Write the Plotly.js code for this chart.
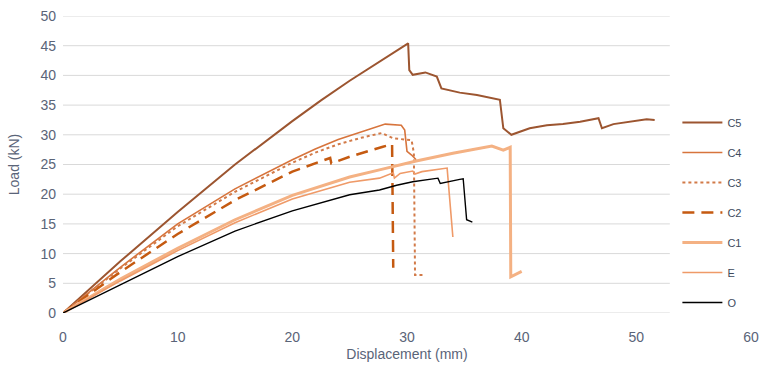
<!DOCTYPE html>
<html>
<head>
<meta charset="utf-8">
<script src="https://cdn.plot.ly/plotly-3.0.1.min.js"></script>
<style>html,body{margin:0;padding:0;background:#fff;}#chart{width:763px;height:367px;}</style>
</head>
<body>
<div id="chart"></div>
<script>
// Series data (displacement in mm, load in kN)
const c5X = [0, 2, 5, 10, 15, 20, 22.5, 25, 27.5, 29.4, 30.1, 30.2, 30.5, 31.6, 32.6, 33.0, 34.6, 36.1, 37.5, 38.1, 38.4, 39.1, 40.7, 42.2, 43.6, 45.1, 46.7, 47.0, 48.0, 49.4, 50.9, 51.6];
const c5Y = [0, 3.5, 8.7, 17.0, 25.0, 32.3, 35.8, 39.1, 42.2, 44.6, 45.4, 40.9, 40.1, 40.5, 39.8, 37.8, 37.1, 36.7, 36.1, 35.9, 31.1, 30.0, 31.1, 31.6, 31.8, 32.2, 32.8, 31.1, 31.8, 32.2, 32.6, 32.5];

const c4X = [0, 2, 5, 10, 15, 20, 22, 24, 26, 28.1, 29.5, 29.8, 30.0, 30.4, 30.8];
const c4Y = [0, 3.1, 7.7, 15.0, 20.9, 25.8, 27.6, 29.2, 30.5, 31.8, 31.6, 30.8, 27.2, 26.6, 25.8];

const c3X = [0, 2, 5, 10, 15, 20, 22, 24, 26, 27.8, 28.8, 30.4, 30.6, 30.7, 31.4];
const c3Y = [0, 3.0, 7.5, 14.6, 20.4, 25.3, 27.0, 28.4, 29.5, 30.3, 29.4, 29.1, 26.9, 6.4, 6.4];

const c2X = [0, 2, 5, 10, 15, 20, 23.3, 23.4, 25.0, 27.9, 28.7, 28.8];
const c2Y = [0, 2.8, 6.9, 13.3, 19.0, 23.8, 26.1, 25.2, 26.3, 28.0, 28.4, 7.6];

const c1X = [0, 2, 5, 10, 15, 20, 25, 27.6, 30.8, 34.0, 36.4, 37.4, 38.4, 39.0, 39.05, 40.0];
const c1Y = [0, 2.3, 5.7, 10.9, 15.7, 19.8, 22.9, 24.1, 25.6, 26.9, 27.7, 28.1, 27.4, 27.9, 6.1, 7.0];

const eX = [0, 2, 5, 10, 15, 20, 25, 27.6, 28.8, 28.9, 29.4, 30.5, 30.7, 31.3, 32.7, 33.5, 34.0];
const eY = [0, 2.2, 5.4, 10.5, 15.2, 19.2, 22.0, 22.7, 23.6, 22.7, 23.5, 23.9, 23.4, 23.8, 24.2, 24.4, 12.8];

const oX = [0, 2, 5, 10, 15, 20, 25, 27.6, 29.1, 30.5, 32.7, 32.9, 34.6, 34.9, 35.2, 35.7];
const oY = [0, 1.9, 4.8, 9.5, 13.8, 17.2, 19.9, 20.7, 21.5, 22.1, 22.7, 21.8, 22.5, 22.6, 15.7, 15.3];

const seriesNames = ["C5", "C4", "C3", "C2", "C1", "E", "O"];
const xTicks = [0, 10, 20, 30, 40, 50, 60];
const yTicks = [0, 5, 10, 15, 20, 25, 30, 35, 40, 45, 50];

const xs = [c5X, c4X, c3X, c2X, c1X, eX, oX];
const ys = [c5Y, c4Y, c3Y, c2Y, c1Y, eY, oY];
const styles = [
  {color: "#9c5530", width: 2, dash: "solid"},
  {color: "#d7743c", width: 1.6, dash: "solid"},
  {color: "#d27a48", width: 2, dash: "dot"},
  {color: "#c55a11", width: 2.5, dash: "12px,7px"},
  {color: "#f4b183", width: 3, dash: "solid"},
  {color: "#ef9a68", width: 1.6, dash: "solid"},
  {color: "#000000", width: 1.4, dash: "solid"}
];

const traces = seriesNames.map((n, i) => ({
  x: xs[i], y: ys[i], name: n, type: "scatter", mode: "lines",
  line: styles[i], legendgroup: n
}));

const txt = "#5a6478";
const gridShapes = yTicks.map(v => ({
  type: "line", xref: "paper", yref: "y", x0: 0, x1: 0.882, y0: v, y1: v,
  line: {color: "#d9d9d9", width: 1}, layer: "below"
}));

const layout = {
  width: 763, height: 367,
  margin: {l: 63, r: 12, t: 16, b: 54},
  paper_bgcolor: "#fff", plot_bgcolor: "#fff",
  font: {family: "Liberation Sans, Arial, sans-serif", color: txt, size: 14},
  showlegend: true,
  legend: {x: 0.893, xanchor: "left", y: 0.69, yanchor: "top",
    font: {size: 11, color: "#404a5c"}, tracegroupgap: 11, itemwidth: 40,
    bgcolor: "rgba(0,0,0,0)"},
  xaxis: {range: [0, 60], tickvals: xTicks, showgrid: false, zeroline: false, showline: false,
    ticks: "", ticklabelstandoff: 14, tickfont: {size: 14, color: txt},
    title: {text: "Displacement (mm)", font: {size: 14, color: txt}, standoff: 5}},
  yaxis: {range: [0, 50], tickvals: yTicks, showgrid: false, zeroline: false, showline: false,
    ticks: "", ticklabelstandoff: 6, tickfont: {size: 14, color: txt},
    title: {text: "Load (kN)", font: {size: 14, color: txt}, standoff: 17}},
  shapes: gridShapes
};

Plotly.newPlot("chart", traces, layout, {staticPlot: true, displayModeBar: false});
</script>
</body>
</html>
